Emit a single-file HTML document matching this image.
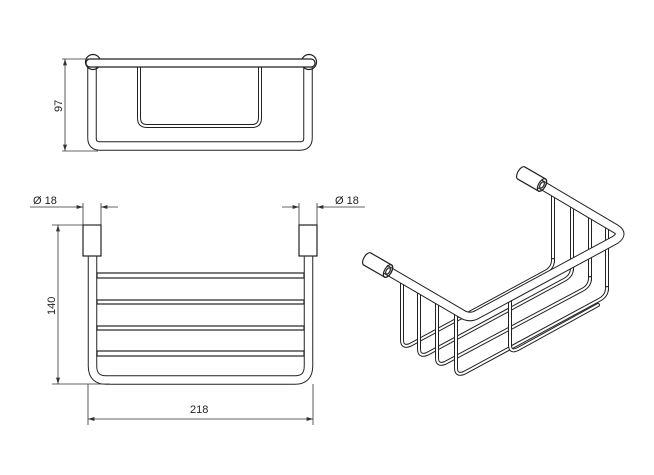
<!DOCTYPE html>
<html><head><meta charset="utf-8"><style>
html,body{margin:0;padding:0;background:#fff;}
svg{display:block;}
text{font-family:"Liberation Sans",sans-serif;font-size:11px;fill:#222;}
.o{fill:none;stroke:#222;stroke-width:4;stroke-linejoin:round;stroke-linecap:round;}
.i{fill:none;stroke:#fff;stroke-width:2;stroke-linejoin:round;stroke-linecap:round;}
.o6{fill:none;stroke:#222;stroke-width:9.5;stroke-linejoin:round;}
.i6{fill:none;stroke:#fff;stroke-width:7.5;stroke-linejoin:round;}
.d{fill:none;stroke:#333;stroke-width:0.8;}
.t{fill:none;stroke:#222;stroke-width:1.2;}
</style></head><body>
<svg width="654" height="475" viewBox="0 0 654 475" xmlns="http://www.w3.org/2000/svg">
<defs><marker id="a" markerWidth="8" markerHeight="6" refX="8" refY="3" orient="auto-start-reverse"><path d="M0,0.5 L8,3 L0,5.5z" fill="#333"/></marker></defs>

<!-- TOP VIEW -->
<g>
<path class="o6" d="M92,64 V138 Q92,146 100,146 H300 Q308,146 308,138 V64"/>
<path class="i6" d="M92,64 V138 Q92,146 100,146 H300 Q308,146 308,138 V64"/>
<path class="o" d="M139,67 V118 Q139,126 147,126 H252 Q260,126 260,118 V67"/>
<path class="i" d="M139,67 V118 Q139,126 147,126 H252 Q260,126 260,118 V67"/>
<circle cx="93" cy="62" r="7.5" class="t" fill="#fff"/>
<circle cx="309" cy="62" r="7.5" class="t" fill="#fff"/>
<rect x="86" y="59" width="229" height="8" rx="4" fill="#fff" stroke="#222" stroke-width="1.2"/>
<line class="d" x1="65" y1="59" x2="65" y2="151" marker-start="url(#a)" marker-end="url(#a)"/>
<line class="d" x1="62" y1="59" x2="90" y2="59"/>
<line class="d" x1="62" y1="151" x2="98" y2="151"/>
<text transform="translate(62,112) rotate(-90)">97</text>
</g>

<!-- FRONT VIEW -->
<g>
<path class="o6" d="M92.5,256 V366 Q92.5,380 106,380 H295 Q308.5,380 308.5,366 V256"/>
<path class="i6" d="M92.5,256 V366 Q92.5,380 106,380 H295 Q308.5,380 308.5,366 V256"/>
<g class="t">
<rect x="97" y="273" width="207" height="5"/>
<rect x="97" y="300" width="207" height="4"/>
<rect x="97" y="326" width="207" height="4"/>
<rect x="97" y="351" width="207" height="5"/>
</g>
<rect x="83" y="225" width="18" height="31" fill="#fff" class="t"/>
<rect x="299" y="225" width="18" height="31" fill="#fff" class="t"/>
<line class="d" x1="83" y1="203" x2="83" y2="225"/>
<line class="d" x1="101" y1="203" x2="101" y2="225"/>
<line class="d" x1="299" y1="203" x2="299" y2="225"/>
<line class="d" x1="317" y1="203" x2="317" y2="225"/>
<line class="d" x1="30" y1="207" x2="83" y2="207" marker-end="url(#a)"/>
<line class="d" x1="118" y1="207" x2="101" y2="207" marker-end="url(#a)"/>
<line class="d" x1="282" y1="207" x2="299" y2="207" marker-end="url(#a)"/>
<line class="d" x1="365" y1="207" x2="317" y2="207" marker-end="url(#a)"/>
<text x="33" y="204">Ø  18</text>
<text x="335" y="204">Ø  18</text>
<line class="d" x1="58" y1="225" x2="58" y2="384" marker-start="url(#a)" marker-end="url(#a)"/>
<line class="d" x1="52" y1="225" x2="98" y2="225"/>
<line class="d" x1="52" y1="384" x2="110" y2="384"/>
<text transform="translate(55,315) rotate(-90)">140</text>
<line class="d" x1="88" y1="384" x2="88" y2="425"/>
<line class="d" x1="313" y1="384" x2="313" y2="425"/>
<line class="d" x1="88" y1="419" x2="313" y2="419" marker-start="url(#a)" marker-end="url(#a)"/>
<text x="190" y="413">218</text>
</g>

<!-- ISO VIEW -->
<g>
<path class="o" d="M553,195 V262"/><path class="i" d="M553,195 V262"/>
<path class="o" d="M572,207 V270"/><path class="i" d="M572,207 V270"/>
<path class="o" d="M590,218 V280"/><path class="i" d="M590,218 V280"/>
<path class="o" d="M607,229 V290"/><path class="i" d="M607,229 V290"/>
<path class="o" d="M402,279 V340 Q402,348 410,345 L545,272 Q553,268 553,260"/>
<path class="i" d="M402,279 V340 Q402,348 410,345 L545,272 Q553,268 553,260"/>
<path class="o" d="M419,289 V349 Q419,357 427,354 L564,280 Q572,276 572,268"/>
<path class="i" d="M419,289 V349 Q419,357 427,354 L564,280 Q572,276 572,268"/>
<path class="o" d="M437,299 V358 Q437,366 445,363 L582,290 Q590,286 590,278"/>
<path class="i" d="M437,299 V358 Q437,366 445,363 L582,290 Q590,286 590,278"/>
<path class="o" d="M456,310 V368 Q456,376 464,373 L599,300 Q607,296 607,288"/>
<path class="i" d="M456,310 V368 Q456,376 464,373 L599,300 Q607,296 607,288"/>
<path class="o" d="M510,296 V345 Q510,353 518,349 L598,305"/>
<path class="i" d="M510,296 V345 Q510,353 518,349 L598,305"/>
<path class="o6" d="M385,269 L462,314 Q470,319 478,314 L615,240 Q624,234 616,229 L540,184" stroke-width="7"/>
<path class="i6" d="M385,269 L462,314 Q470,319 478,314 L615,240 Q624,234 616,229 L540,184" stroke-width="4.5"/>
<g transform="translate(542,185) rotate(30)">
<path d="M-24,-7 H0 A3.5,7 0 0 1 0,7 H-24 A3.5,7 0 0 1 -24,-7z" fill="#fff" class="t"/>
<ellipse cx="0" cy="0" rx="3.5" ry="7" fill="#fff" class="t"/>
<ellipse cx="0" cy="0" rx="1.8" ry="3.5" fill="#fff" class="t"/>
</g>
<g transform="translate(388,271) rotate(30)">
<path d="M-24,-7 H0 A3.5,7 0 0 1 0,7 H-24 A3.5,7 0 0 1 -24,-7z" fill="#fff" class="t"/>
<ellipse cx="0" cy="0" rx="3.5" ry="7" fill="#fff" class="t"/>
<ellipse cx="0" cy="0" rx="1.8" ry="3.5" fill="#fff" class="t"/>
</g>
</g>
</svg>
</body></html>
